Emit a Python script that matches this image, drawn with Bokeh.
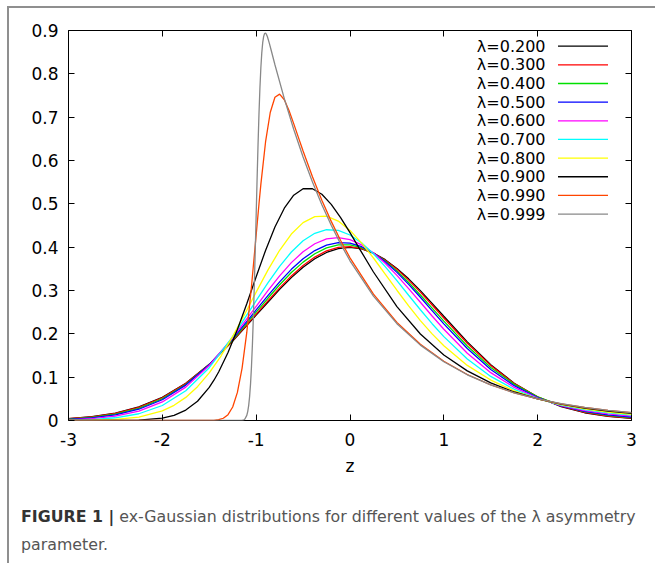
from bokeh.plotting import figure
from bokeh.models import FixedTicker, LinearAxis, Range1d, Div, ColumnDataSource
from bokeh.layouts import column
from bokeh.embed import file_html
from bokeh.resources import INLINE
from bokeh.core.properties import value

# ---------------- data ----------------
z_grid = [-3.0, -2.75, -2.5, -2.25, -2.0, -1.75, -1.5, -1.25, -1.0,
          -0.875, -0.75, -0.625, -0.5, -0.375, -0.25, -0.125, 0.0, 0.125, 0.25, 0.375, 0.5, 0.625, 0.75, 0.875, 1.0,
          1.25, 1.5, 1.75, 2.0, 2.25, 2.5, 2.75, 3.0]

dens_l020 = [0.0043, 0.0088, 0.0172, 0.0313, 0.0536, 0.0860, 0.1296, 0.1832, 0.2431,
             0.2730, 0.3026, 0.3297, 0.3536, 0.3732, 0.3878, 0.3967, 0.3994, 0.3959, 0.3863, 0.3711, 0.3510,
             0.3269, 0.2997, 0.2702, 0.2405,
             0.1815, 0.1289, 0.0861, 0.0542, 0.0321, 0.0179, 0.0095, 0.0047]
dens_l030 = [0.0040, 0.0083, 0.0164, 0.0303, 0.0525, 0.0851, 0.1294, 0.1842, 0.2454,
             0.2759, 0.3061, 0.3336, 0.3575, 0.3771, 0.3913, 0.3995, 0.4014, 0.3968, 0.3862, 0.3699, 0.3488,
             0.3239, 0.2962, 0.2664, 0.2366,
             0.1782, 0.1268, 0.0853, 0.0544, 0.0330, 0.0190, 0.0104, 0.0054]
dens_l040 = [0.0034, 0.0073, 0.0147, 0.0279, 0.0498, 0.0830, 0.1288, 0.1860, 0.2501,
             0.2820, 0.3132, 0.3414, 0.3655, 0.3848, 0.3982, 0.4051, 0.4052, 0.3988, 0.3860, 0.3678, 0.3449,
             0.3185, 0.2897, 0.2593, 0.2294,
             0.1720, 0.1225, 0.0834, 0.0544, 0.0342, 0.0206, 0.0119, 0.0066]
dens_l050 = [0.0026, 0.0060, 0.0130, 0.0260, 0.0479, 0.0817, 0.1289, 0.1883, 0.2551,
             0.2882, 0.3200, 0.3488, 0.3732, 0.3922, 0.4048, 0.4106, 0.4092, 0.4010, 0.3864, 0.3664, 0.3418,
             0.3141, 0.2843, 0.2536, 0.2231,
             0.1661, 0.1179, 0.0803, 0.0529, 0.0339, 0.0213, 0.0132, 0.0081]
dens_l060 = [0.0016, 0.0042, 0.0100, 0.0217, 0.0428, 0.0770, 0.1269, 0.1910, 0.2636,
             0.2998, 0.3339, 0.3643, 0.3894, 0.4079, 0.4189, 0.4221, 0.4173, 0.4053, 0.3866, 0.3627, 0.3348,
             0.3044, 0.2728, 0.2412, 0.2106,
             0.1553, 0.1104, 0.0763, 0.0517, 0.0346, 0.0230, 0.0152, 0.0100]
dens_l070 = [0.0007, 0.0022, 0.0063, 0.0156, 0.0346, 0.0687, 0.1218, 0.1935, 0.2764,
             0.3176, 0.3558, 0.3888, 0.4148, 0.4321, 0.4402, 0.4386, 0.4281, 0.4096, 0.3847, 0.3551, 0.3227,
             0.2890, 0.2556, 0.2234, 0.1935,
             0.1418, 0.1017, 0.0720, 0.0506, 0.0355, 0.0249, 0.0174, 0.0122]

z_l080 = [-3.0, -2.75, -2.5, -2.25, -2.0,
          -1.875, -1.75, -1.625, -1.5, -1.375, -1.25, -1.125, -1.0, -0.875, -0.75, -0.625, -0.5, -0.375, -0.25,
          -0.125,
          0.0, 0.125, 0.25, 0.375, 0.5, 0.625, 0.75, 0.875,
          1.0, 1.25, 1.5, 1.75, 2.0, 2.25, 2.5, 2.75, 3.0]
dens_l080 = [0.0001, 0.0006, 0.0024, 0.0078, 0.0221,
             0.0350, 0.0533, 0.0780, 0.1098, 0.1488, 0.1942, 0.2442, 0.2963, 0.3470, 0.3928, 0.4303, 0.4567,
             0.4706, 0.4715, 0.4602,
             0.4387, 0.4094, 0.3750, 0.3380, 0.3006, 0.2644, 0.2306, 0.1999,
             0.1724, 0.1272, 0.0933, 0.0683, 0.0500, 0.0366, 0.0268, 0.0196, 0.0143]

z_l090 = [-3.0, -2.75, -2.5, -2.25, -2.0, -1.875, -1.75, -1.625, -1.5, -1.45, -1.4, -1.3, -1.2, -1.1, -1.0, -0.9,
          -0.8, -0.7, -0.6, -0.5, -0.4, -0.3, -0.2, -0.1, 0.0, 0.1, 0.25, 0.5, 0.75, 1.0, 1.25, 1.5, 1.75, 2.0,
          2.25, 2.5, 2.75, 3.0]
dens_l090 = [0.0, 0.0, 0.0001, 0.0010, 0.0056, 0.0120, 0.0240, 0.0444, 0.0764, 0.0930, 0.1120, 0.1568, 0.2101,
             0.2696, 0.3319, 0.3924, 0.4465, 0.4900, 0.5199, 0.5348, 0.5349, 0.5220, 0.4988, 0.4682, 0.4334,
             0.3968, 0.3427, 0.2629, 0.1997, 0.1513, 0.1146, 0.0868, 0.0658, 0.0498, 0.0377, 0.0286, 0.0216,
             0.0164]

z_l099 = [-3.0, -1.6, -1.5, -1.45, -1.4, -1.35, -1.3, -1.25, -1.2, -1.15, -1.1, -1.05, -1.0, -0.97, -0.95, -0.9,
          -0.85, -0.8, -0.75, -0.7, -0.65, -0.6, -0.55, -0.5, -0.4, -0.3, -0.2, -0.1, 0.0, 0.25, 0.5, 0.75, 1.0,
          1.25, 1.5, 1.75, 2.0, 2.25, 2.5, 2.75, 3.0]
dens_l099 = [0.0, 0.0, 0.0001, 0.0005, 0.0018, 0.0052, 0.0135, 0.0312, 0.0649, 0.1210, 0.2032, 0.3091, 0.4283,
             0.4997, 0.5450, 0.6428, 0.7108, 0.7460, 0.7531, 0.7401, 0.7154, 0.6851, 0.6533, 0.6218, 0.5623, 0.5083,
             0.4595, 0.4153, 0.3754, 0.2916, 0.2265, 0.1759, 0.1366, 0.1061, 0.0824, 0.0640, 0.0497, 0.0386, 0.0300,
             0.0233, 0.0181]

z_l0999 = [-3.0, -1.2, -1.15, -1.13, -1.12, -1.1, -1.09, -1.08, -1.07, -1.06, -1.05, -1.04, -1.03, -1.02, -1.01,
           -1.0, -0.99, -0.98, -0.97, -0.96, -0.95, -0.94, -0.93, -0.92, -0.91, -0.9, -0.89, -0.88, -0.86, -0.84,
           -0.8, -0.7, -0.6, -0.5, -0.4, -0.3, -0.2, -0.1, 0.0, 0.25, 0.5, 0.75, 1.0, 1.25, 1.5, 1.75, 2.0, 2.25,
           2.5, 2.75, 3.0]
dens_l0999 = [0.0, 0.0, 0.0004, 0.0017, 0.0034, 0.0118, 0.0206, 0.0344, 0.0552, 0.0846, 0.1244, 0.1755, 0.2380,
              0.3106, 0.3906, 0.4747, 0.5583, 0.6372, 0.7077, 0.7671, 0.8142, 0.8490, 0.8725, 0.8865, 0.8929,
              0.8939, 0.8910, 0.8855, 0.8709, 0.8544, 0.8210, 0.7428, 0.6721, 0.6081, 0.5502, 0.4978, 0.4504,
              0.4075, 0.3686, 0.2870, 0.2234, 0.1739, 0.1355, 0.1055, 0.0821, 0.0639, 0.0498, 0.0388, 0.0302,
              0.0235, 0.0183]

legend_labels = ["λ=0.200", "λ=0.300", "λ=0.400", "λ=0.500", "λ=0.600",
                 "λ=0.700", "λ=0.800", "λ=0.900", "λ=0.990", "λ=0.999"]
line_colors = ["#000000", "#ff0000", "#00e000", "#0000ff", "#ff00ff",
               "#00ffff", "#ffff00", "#000000", "#ff4500", "#888888"]

x_ticks = [-3, -2, -1, 0, 1, 2, 3]
x_tick_labels = ["-3", "-2", "-1", "0", "1", "2", "3"]
y_ticks = [0, 0.1, 0.2, 0.3, 0.4, 0.5, 0.6, 0.7, 0.8, 0.9]
y_tick_labels = ["0", "0.1", "0.2", "0.3", "0.4", "0.5", "0.6", "0.7", "0.8", "0.9"]
x_label = "z"
caption_bold = "FIGURE 1 |"
caption_line1 = "ex-Gaussian distributions for different values of the λ asymmetry"
caption_line2 = "parameter."

# ---------------- layout constants ----------------
FONT = "DejaVu Sans"
FRAME_W, FRAME_H = 563, 390
X0, X1, Y0, Y1 = -3.0, 3.0, 0.0, 0.9

series = [
    (z_grid, dens_l020), (z_grid, dens_l030), (z_grid, dens_l040), (z_grid, dens_l050),
    (z_grid, dens_l060), (z_grid, dens_l070), (z_l080, dens_l080), (z_l090, dens_l090),
    (z_l099, dens_l099), (z_l0999, dens_l0999),
]

p = figure(frame_width=FRAME_W, frame_height=FRAME_H,
           x_range=Range1d(X0, X1), y_range=Range1d(Y0, Y1),
           output_backend="svg", toolbar_location=None,
           min_border_left=59, min_border_right=17, min_border_top=22, min_border_bottom=73,
           background_fill_color="white", border_fill_color="white")
p.grid.visible = False
p.outline_line_color = "black"
p.outline_line_width = 1
p.outline_line_alpha = 1.0

bottom_axis = p.below[0]
left_axis = p.left[0]
top_axis = LinearAxis()
right_axis = LinearAxis()
p.add_layout(top_axis, "above")
p.add_layout(right_axis, "right")


def style_axis(ax, ticks, labels, show):
    ax.ticker = FixedTicker(ticks=ticks)
    ax.major_label_overrides = {t: (l if show else "") for t, l in zip(ticks, labels)}
    ax.axis_line_color = None
    ax.major_tick_in = 6
    ax.major_tick_out = 0
    ax.major_tick_line_color = "black"
    ax.major_tick_line_width = 1
    ax.minor_tick_line_color = None
    ax.major_label_text_font = FONT
    ax.major_label_text_font_size = "17px" if show else "1px"
    ax.major_label_text_color = "black"
    ax.major_label_standoff = 11 if show else 0


style_axis(bottom_axis, x_ticks, x_tick_labels, True)
style_axis(left_axis, y_ticks, y_tick_labels, True)
style_axis(top_axis, x_ticks, x_tick_labels, False)
style_axis(right_axis, y_ticks, y_tick_labels, False)
left_axis.major_label_standoff = 10
bottom_axis.major_label_standoff = 12
bottom_axis.axis_label = x_label
bottom_axis.axis_label_text_font = FONT
bottom_axis.axis_label_text_font_size = "17px"
bottom_axis.axis_label_text_font_style = "normal"
bottom_axis.axis_label_text_color = "black"
bottom_axis.axis_label_standoff = 7

for (zs, ds), col in zip(series, line_colors):
    p.line(x=zs, y=ds, line_color=col, line_width=1.3)

# ---------------- legend (label, then a line sample to the right) ----------------
dxp = (X1 - X0) / FRAME_W
dyp = (Y1 - Y0) / FRAME_H
row_px = [15.7 + 18.65 * i for i in range(len(legend_labels))]
leg = ColumnDataSource(dict(
    tx=[X0 + 477 * dxp] * len(legend_labels),
    lx0=[X0 + 489.5 * dxp] * len(legend_labels),
    lx1=[X0 + 539.5 * dxp] * len(legend_labels),
    ty=[Y1 - r * dyp for r in row_px],
    label=legend_labels,
    color=line_colors,
))
p.text(x="tx", y="ty", text="label", source=leg, text_align="right", text_baseline="middle",
       text_font=value(FONT), text_font_size="16px", text_color="black")
p.segment(x0="lx0", y0="ty", x1="lx1", y1="ty", source=leg, line_color="color", line_width=1.3)

caption_html = (
    '<div style="padding:5px 0 0 7px; font-family:\'DejaVu Sans\'; font-size:15.8px; '
    'line-height:28px; color:#555555; white-space:nowrap;">'
    '<span style="font-weight:bold; color:#333333;">' + caption_bold + '</span> '
    + caption_line1 + '<br>' + caption_line2 + '</div>'
)
cap = Div(text=caption_html, width=643, height=60)

layout = column(p, cap, spacing=0, margin=(6, 0, 0, 7),
                styles={"border-left": "2px solid #8f8f8f", "border-top": "2px solid #8f8f8f"})

open("out.html", "w").write(file_html(layout, INLINE))
